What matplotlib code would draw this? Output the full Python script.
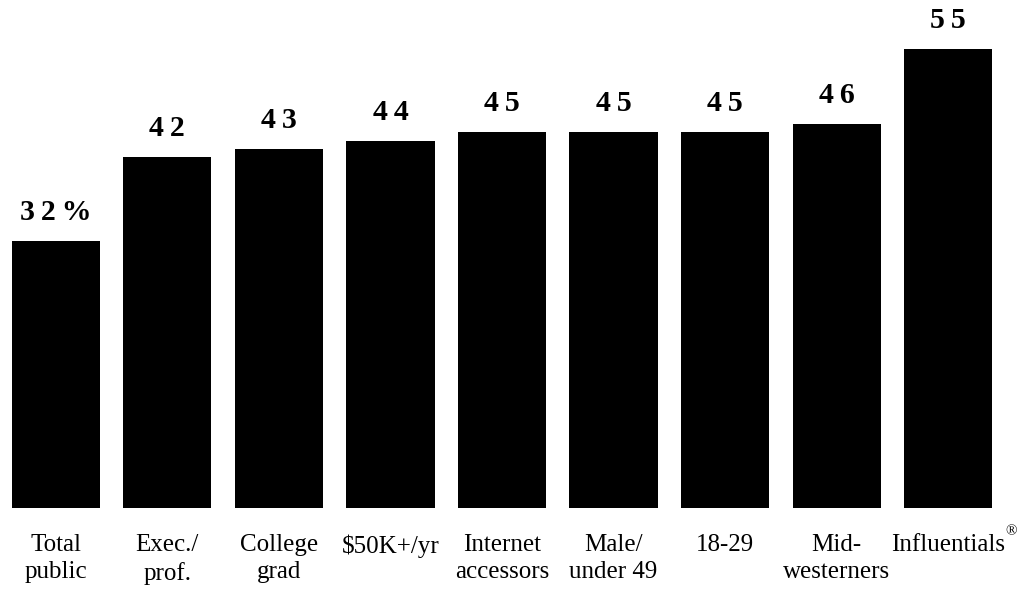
import matplotlib.pyplot as plt

categories = ["Total\npublic", "Exec./\nprof.", "College\ngrad", "$50K+/yr",
              "Internet\naccessors", "Male/\nunder 49", "18-29", "Mid-\nwesterners",
              "Influentials"]
values = [32, 42, 43, 44, 45, 45, 45, 46, 55]
value_labels = ["32%", "42", "43", "44", "45", "45", "45", "46", "55"]

plt.rcParams['font.family'] = ['Liberation Serif', 'DejaVu Serif']

fig = plt.figure(figsize=(10.28, 5.90), dpi=100)
ax = fig.add_axes([0.0, 0.139, 1004 / 1028, 0.8487])

x = list(range(len(values)))
bars = ax.bar(x, values, width=0.79, color='black')

# value labels, letter-spaced like the original
for rect, lab in zip(bars, value_labels):
    spaced = "\u2009".join(lab)
    ax.annotate(spaced, (rect.get_x() + rect.get_width() / 2, rect.get_height()),
                xytext=(0, 11), textcoords='offset points',
                ha='center', va='bottom', fontsize=21.5, fontweight='bold')

ax.set_xlim(-0.5, len(values) - 0.5)
ax.set_ylim(0, 60)
ax.set_xticks(x)
ax.set_xticklabels(categories, fontsize=18, linespacing=1.3)
ax.tick_params(axis='x', length=0, pad=19)
ax.set_yticks([])
for s in ax.spines.values():
    s.set_visible(False)

# registered mark after the last label
last = ax.get_xticklabels()[-1]
ax.annotate("\u00ae", xy=(1, 1), xycoords=last, xytext=(0, 2),
            textcoords='offset points', ha='left', va='center', fontsize=11)

fig.savefig("out.png", dpi=100)
